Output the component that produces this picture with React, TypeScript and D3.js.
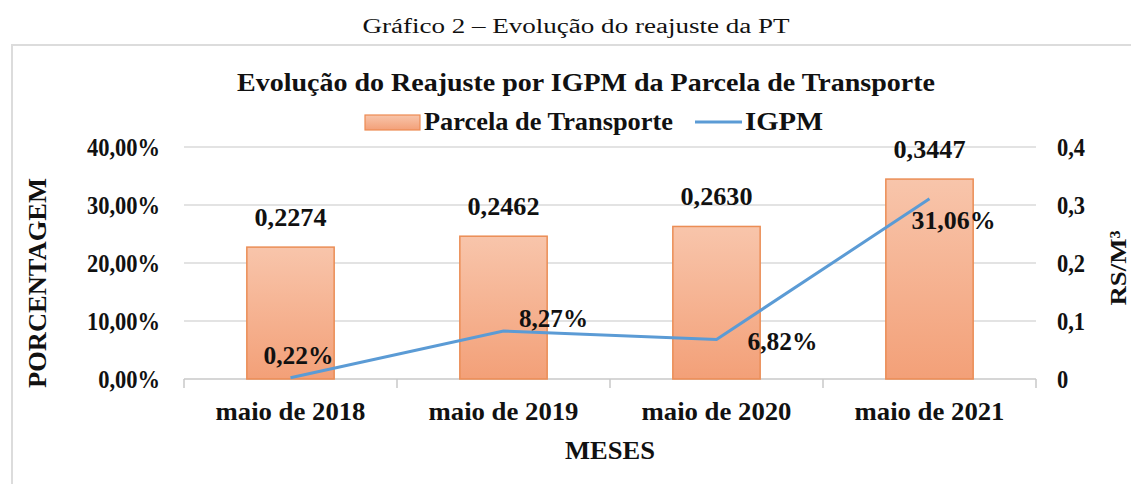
import React from "react";
import * as d3 from "d3";

const categories = ["maio de 2018", "maio de 2019", "maio de 2020", "maio de 2021"];
const parcelaValues = [0.2274, 0.2462, 0.263, 0.3447];
const parcelaLabels = ["0,2274", "0,2462", "0,2630", "0,3447"];
const igpmValues = [0.0022, 0.0827, 0.0682, 0.3106];
const igpmLabels = ["0,22%", "8,27%", "6,82%", "31,06%"];
const leftTicks = [0, 0.1, 0.2, 0.3, 0.4];
const leftTickLabels = ["0,00%", "10,00%", "20,00%", "30,00%", "40,00%"];
const rightTicks = [0, 0.1, 0.2, 0.3, 0.4];
const rightTickLabels = ["0", "0,1", "0,2", "0,3", "0,4"];

// label placement offsets (styling) relative to the point
const igpmLabelOffsets = [
  [8, -22, 70],
  [50, -12, 69],
  [66, 3, 70],
  [24, 22, 84],
];

const W = 1131;
const H = 484;
const plot = { left: 184, right: 1036, top: 147, bottom: 379 };
const FONT = "'Liberation Serif', 'Times New Roman', serif";

function Cond({ x, y, sx = 0.92, children, ...rest }: any) {
  return (
    <g transform={`translate(${x},${y}) scale(${sx},1)`}>
      <text x={0} y={0} {...rest}>
        {children}
      </text>
    </g>
  );
}

export default function App() {
  const x = d3
    .scaleBand<string>()
    .domain(categories)
    .range([plot.left, plot.right])
    .paddingInner(0)
    .paddingOuter(0);
  const yL = d3.scaleLinear().domain([0, 0.4]).range([plot.bottom, plot.top]);
  const yR = d3.scaleLinear().domain([0, 0.4]).range([plot.bottom, plot.top]);
  const bw = x.bandwidth() * 0.41;
  const cx = (c: string) => (x(c) as number) + x.bandwidth() / 2;

  const line = d3
    .line<number>()
    .x((_, i) => cx(categories[i]))
    .y((d) => yL(d));

  const boundaries = [...categories.map((c) => x(c) as number), plot.right];

  return (
    <svg
      width={W}
      height={H}
      style={{ position: "absolute", left: 0, top: 0, background: "#fff" }}
      fontFamily={FONT}
    >
      <defs>
        <linearGradient id="barGrad" x1="0" y1="0" x2="0" y2="1">
          <stop offset="0%" stopColor="#f8c5ab" />
          <stop offset="100%" stopColor="#f3a078" />
        </linearGradient>
      </defs>
      <rect x={0} y={0} width={W} height={H} fill="#fff" />
      {/* caption */}
      <text x={576} y={33} fontSize={20} textAnchor="middle" textLength={427} lengthAdjust="spacingAndGlyphs" fill="#111">
        Gráfico 2 – Evolução do reajuste da PT
      </text>
      {/* chart border */}
      <rect x={12} y={45} width={1140} height={460} fill="none" stroke="#dcdcdc" strokeWidth={2} />
      {/* title */}
      <text x={586} y={91} fontSize={26} fontWeight="bold" textAnchor="middle" textLength={698} lengthAdjust="spacingAndGlyphs" fill="#111">
        Evolução do Reajuste por IGPM da Parcela de Transporte
      </text>
      {/* legend */}
      <rect x={365} y={115} width={55} height={15} fill="url(#barGrad)" stroke="#ed8a52" strokeWidth={1.2} />
      <text x={424} y={130} fontSize={25} fontWeight="bold" textLength={249} lengthAdjust="spacingAndGlyphs" fill="#111">
        Parcela de Transporte
      </text>
      <line x1={695} x2={742} y1={122} y2={122} stroke="#5b9bd5" strokeWidth={3} />
      <text x={745} y={130} fontSize={25} fontWeight="bold" textLength={78} lengthAdjust="spacingAndGlyphs" fill="#111">
        IGPM
      </text>
      {/* gridlines */}
      {leftTicks.map((t) => (
        <line key={t} x1={plot.left} x2={plot.right} y1={yL(t)} y2={yL(t)} stroke={t === 0 ? "#c8c8c8" : "#dadada"} strokeWidth={1.5} />
      ))}
      {/* category ticks */}
      {boundaries.map((b, i) => (
        <line key={i} x1={b} x2={b} y1={plot.bottom} y2={plot.bottom + 9} stroke="#c8c8c8" strokeWidth={1.5} />
      ))}
      {/* left tick labels */}
      {leftTicks.map((t, i) => (
        <Cond key={t} x={160} y={yL(t) + 9} sx={0.9} fontSize={25} fontWeight="bold" textAnchor="end" fill="#111">
          {leftTickLabels[i]}
        </Cond>
      ))}
      {/* right tick labels */}
      {rightTicks.map((t, i) => (
        <Cond key={t} x={1057} y={yR(t) + 9} sx={0.9} fontSize={25} fontWeight="bold" textAnchor="start" fill="#111">
          {rightTickLabels[i]}
        </Cond>
      ))}
      {/* axis titles */}
      <text transform="translate(46,283) rotate(-90)" fontSize={25} fontWeight="bold" textAnchor="middle" textLength={210} lengthAdjust="spacingAndGlyphs" fill="#111">
        PORCENTAGEM
      </text>
      <text transform="translate(1126,268) rotate(-90)" fontSize={23} fontWeight="bold" textAnchor="middle" textLength={75} lengthAdjust="spacingAndGlyphs" fill="#111">
        RS/M³
      </text>
      {/* bars */}
      {categories.map((c, i) => (
        <rect
          key={c}
          x={cx(c) - bw / 2}
          y={yR(parcelaValues[i])}
          width={bw}
          height={plot.bottom - yR(parcelaValues[i])}
          fill="url(#barGrad)"
          stroke="#eb8d55"
          strokeWidth={1.5}
        />
      ))}
      {/* bar labels */}
      {categories.map((c, i) => (
        <text key={c} x={cx(c)} y={yR(parcelaValues[i]) - 21} fontSize={25} fontWeight="bold" textAnchor="middle" textLength={72} lengthAdjust="spacingAndGlyphs" fill="#111">
          {parcelaLabels[i]}
        </text>
      ))}
      {/* IGPM line */}
      <path d={line(igpmValues) || ""} fill="none" stroke="#5b9bd5" strokeWidth={3} />
      {/* IGPM labels */}
      {categories.map((c, i) => (
        <text
          key={c}
          x={cx(c) + igpmLabelOffsets[i][0]}
          y={yL(igpmValues[i]) + igpmLabelOffsets[i][1] + 8}
          fontSize={25}
          fontWeight="bold"
          textAnchor="middle"
          textLength={igpmLabelOffsets[i][2]}
          lengthAdjust="spacingAndGlyphs"
          fill="#111"
        >
          {igpmLabels[i]}
        </text>
      ))}
      {/* category labels */}
      {categories.map((c) => (
        <text key={c} x={cx(c)} y={420} fontSize={25} fontWeight="bold" textAnchor="middle" textLength={150} lengthAdjust="spacingAndGlyphs" fill="#111">
          {c}
        </text>
      ))}
      <text x={610} y={459} fontSize={25} fontWeight="bold" textAnchor="middle" textLength={90} lengthAdjust="spacingAndGlyphs" fill="#111">
        MESES
      </text>
    </svg>
  );
}
